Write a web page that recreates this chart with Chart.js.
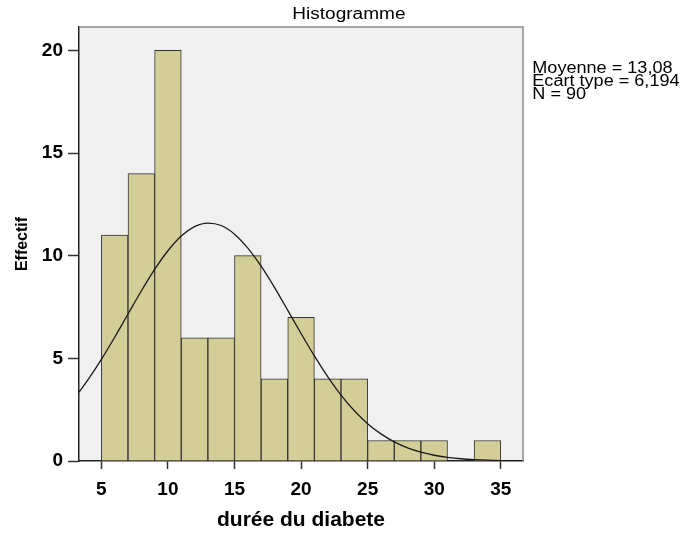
<!DOCTYPE html>
<html>
<head>
<meta charset="utf-8">
<script src="https://cdn.jsdelivr.net/npm/chart.js@4/dist/chart.umd.min.js"></script>
<style>
html,body{margin:0;padding:0;background:#fff;}
#wrap{width:683px;height:536px;}
</style>
</head>
<body>
<div id="wrap"><canvas id="c" width="683" height="536"></canvas></div>
<script>
// Histogram bins (centres of 2-unit bins) and counts
const binCenters = [6, 8, 10, 12, 14, 16, 18, 20, 22, 24, 26, 28, 30, 32, 34];
const counts     = [11, 14, 20, 6, 6, 10, 4, 7, 4, 4, 1, 1, 1, null, 1];

// Fitted normal curve
const curveX = [3.32, 4, 5, 6, 7, 8, 9, 10, 11, 12, 13, 14, 15, 16, 17, 18, 19, 20, 21, 22, 23, 24, 25, 26, 27, 28, 29, 30, 31, 32, 33, 34, 35, 36, 36.67];
const curveY = [3.35, 3.96, 4.95, 6.03, 7.16, 8.28, 9.33, 10.24, 10.96, 11.42, 11.59, 11.47, 11.05, 10.37, 9.49, 8.46, 7.34, 6.21, 5.12, 4.11, 3.21, 2.45, 1.82, 1.32, 0.93, 0.64, 0.43, 0.28, 0.18, 0.11, 0.066, 0.039, 0.022, 0.012, 0.008];

// Axis ticks
const xTicks = [5, 10, 15, 20, 25, 30, 35];
const yTicks = [0, 5, 10, 15, 20];

// Texts
const chartTitle = "Histogramme";
const statsLines = ["Moyenne = 13,08", "Ecart type = 6,194", "N = 90"];
const xTitle = "durée du diabete";
const yTitle = "Effectif";

const FONT = "'Liberation Sans', Arial, sans-serif";

const decor = {
  id: 'decor',
  beforeDraw(chart) {
    const {ctx, chartArea: a} = chart;
    ctx.save();
    ctx.fillStyle = '#f0f0f0';
    ctx.fillRect(a.left, a.top, a.right - a.left, a.bottom - a.top);
    ctx.restore();
  },
  afterDraw(chart) {
    const {ctx, chartArea: a} = chart;
    ctx.save();
    // top & right frame
    ctx.strokeStyle = '#8a8a8a';
    ctx.lineWidth = 1.5;
    ctx.beginPath();
    ctx.moveTo(a.left, a.top);
    ctx.lineTo(a.right, a.top);
    ctx.lineTo(a.right, a.bottom);
    ctx.stroke();
    // title
    ctx.fillStyle = '#000';
    ctx.textBaseline = 'alphabetic';
    ctx.textAlign = 'left';
    ctx.font = '16px ' + FONT;
    ctx.save();
    ctx.translate(292.3, 19);
    ctx.scale(1.19, 1);
    ctx.fillText(chartTitle, 0, 0);
    ctx.restore();
    // stats
    ctx.font = '16px ' + FONT;
    statsLines.forEach((t, i) => {
      ctx.save();
      ctx.translate(532.3, 72.7 + i * 13.3);
      ctx.scale(1.13, 1);
      ctx.fillText(t, 0, 0);
      ctx.restore();
    });
    ctx.restore();
  }
};

new Chart(document.getElementById('c'), {
  type: 'bar',
  data: {
    datasets: [
      {
        type: 'line',
        data: curveX.map((x, i) => ({x: x, y: curveY[i]})),
        borderColor: '#1a1a1a',
        borderWidth: 1.3,
        pointRadius: 0,
        fill: false,
        cubicInterpolationMode: 'monotone',
        order: 0
      },
      {
        type: 'bar',
        data: binCenters.map((x, i) => ({x: x, y: counts[i]})),
        backgroundColor: '#d3ce98',
        borderColor: '#333333',
        borderWidth: 1,
        barPercentage: 1,
        categoryPercentage: 1,
        order: 1
      }
    ]
  },
  options: {
    responsive: false,
    animation: false,
    devicePixelRatio: 1,
    layout: {padding: {top: 27, right: 160, left: 0, bottom: 0}},
    plugins: {legend: {display: false}, tooltip: {enabled: false}, title: {display: false}},
    scales: {
      x: {
        type: 'linear',
        min: 3.32,
        max: 36.67,
        offset: false,
        afterFit(s) { s.height = 75; },
        afterBuildTicks(s) { s.ticks = xTicks.map(v => ({value: v})); },
        grid: {display: true, drawOnChartArea: false, drawTicks: true, tickLength: 8, tickColor: '#333', tickWidth: 1.5, offset: false},
        border: {display: true, color: '#222', width: 1.5},
        ticks: {color: '#000', font: {family: FONT, size: 19, weight: 'bold'}, padding: 9, maxRotation: 0, autoSkip: false},
        title: {display: true, text: xTitle, color: '#000', font: {family: FONT, size: 21, weight: 'bold'}, padding: {top: 0, bottom: 3}}
      },
      y: {
        min: 0,
        max: 21.14,
        afterFit(s) { s.width = 79; },
        afterBuildTicks(s) { s.ticks = yTicks.map(v => ({value: v})); },
        grid: {display: true, drawOnChartArea: false, drawTicks: true, tickLength: 11, tickColor: '#333', tickWidth: 1.5},
        border: {display: true, color: '#222', width: 1.5},
        ticks: {color: '#000', font: {family: FONT, size: 19, weight: 'bold'}, padding: 5},
        title: {display: true, text: yTitle, color: '#000', font: {family: FONT, size: 16, weight: 'bold'}, padding: {top: 13, bottom: 0}}
      }
    }
  },
  plugins: [decor]
});
</script>
</body>
</html>
